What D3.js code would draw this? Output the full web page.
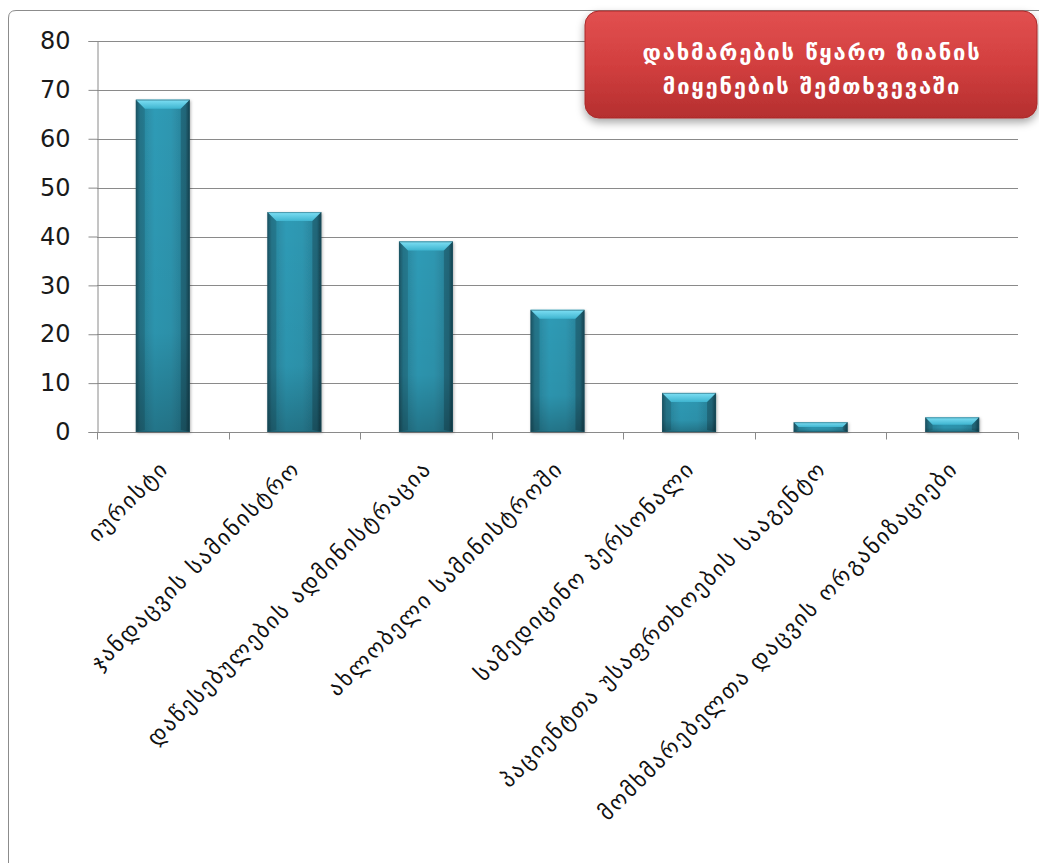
<!DOCTYPE html>
<html><head><meta charset="utf-8">
<script src="https://cdn.jsdelivr.net/npm/d3@7"></script>
<style>body{margin:0;background:#fff}svg{display:block}</style>
</head><body>
<svg id="c" width="1039" height="863"></svg>
<script>
const categories = ["იურისტი","ჯანდაცვის სამინისტრო","დაწესებულების ადმინისტრაცია","ახლობელი სამინისტროში","სამედიცინო პერსონალი","პაციენტთა უსაფრთხოების სააგენტო","მომხმარებელთა დაცვის ორგანიზაციები"];
const values = [68, 45, 39, 25, 8, 2, 3];
const yTicks = [0,10,20,30,40,50,60,70,80];
const titleLines = ["დახმარების წყარო ზიანის","მიყენების შემთხვევაში"];

(function(){
const svg = d3.select("#c");
const defs = svg.append("defs");
const pLeft = 97, pRight = 1018, pTop = 41, pBottom = 432;

// frame
svg.append("path").attr("d","M8.5,863 L8.5,18 Q8.5,10.5 16,10.5 L1039,10.5")
  .attr("fill","none").attr("stroke","#8c8c8c").attr("stroke-width",1);

const x = d3.scaleBand().domain(categories).range([pLeft,pRight]).paddingInner(0.59).paddingOuter(0.295);
const xb = d3.scaleBand().domain(categories).range([pLeft,pRight]);
const y = d3.scaleLinear().domain([0,80]).range([pBottom,pTop]);

// gridlines
svg.append("g").selectAll("line").data(yTicks).join("line")
  .attr("x1",pLeft).attr("x2",pRight).attr("y1",d=>Math.round(y(d))+0.5).attr("y2",d=>Math.round(y(d))+0.5)
  .attr("stroke","#8a8a8a").attr("stroke-width",1);

// y axis
const ya = svg.append("g").attr("transform",`translate(${pLeft+0.5},0)`)
  .call(d3.axisLeft(y).tickValues(yTicks).tickSize(9).tickPadding(18));
ya.select(".domain").attr("stroke","#8a8a8a");
ya.selectAll(".tick line").attr("stroke","#8a8a8a");
ya.selectAll(".tick text").attr("font-family","DejaVu Sans, Verdana, sans-serif").attr("font-size",24).attr("fill","#1a1a1a");

// x axis
const xa = svg.append("g").attr("transform",`translate(0,${pBottom+0.5})`);
xa.append("line").attr("x1",pLeft).attr("x2",pRight).attr("stroke","#8a8a8a");
const bounds = categories.map((c)=>xb(c)).concat([pRight]);
xa.selectAll("line.t").data(bounds).join("line").attr("class","t")
  .attr("x1",d=>Math.round(d)+0.5).attr("x2",d=>Math.round(d)+0.5).attr("y1",0).attr("y2",7).attr("stroke","#8a8a8a");

// gradients
const g1 = defs.append("linearGradient").attr("id","barG").attr("x1",0).attr("x2",1).attr("y1",0).attr("y2",0);
[[0,"#1f5e70"],[0.08,"#2a849b"],[0.35,"#2f9bb6"],[0.65,"#2e97b1"],[0.92,"#2a7f96"],[1,"#184e5e"]].forEach(s=>g1.append("stop").attr("offset",s[0]).attr("stop-color",s[1]));
const g2 = defs.append("linearGradient").attr("id","barV").attr("x1",0).attr("x2",0).attr("y1",0).attr("y2",1);
[[0,"#000",0],[0.7,"#000",0.05],[1,"#000",0.25]].forEach(s=>g2.append("stop").attr("offset",s[0]).attr("stop-color",s[1]).attr("stop-opacity",s[2]));
const g3 = defs.append("linearGradient").attr("id","bevel").attr("x1",0).attr("x2",0).attr("y1",0).attr("y2",1);
[[0,"#7fe0f5"],[1,"#3fb5d0"]].forEach(s=>g3.append("stop").attr("offset",s[0]).attr("stop-color",s[1]));
const sh = defs.append("filter").attr("id","bsh").attr("x","-20%").attr("y","-20%").attr("width","140%").attr("height","140%");
sh.append("feDropShadow").attr("dx",1).attr("dy",1).attr("stdDeviation",1.5).attr("flood-color","#000").attr("flood-opacity",0.3);

const bars = svg.append("g").selectAll("g").data(categories).join("g");
bars.each(function(c,i){
  const g = d3.select(this);
  const x0 = x(c), w = x.bandwidth(), y0 = y(values[i]), h = y(0)-y0;
  g.append("rect").attr("x",x0).attr("y",y0).attr("width",w).attr("height",h).attr("fill","url(#barG)").attr("filter","url(#bsh)");
  g.append("rect").attr("x",x0).attr("y",y0).attr("width",w).attr("height",h).attr("fill","url(#barV)");
  const b = Math.min(9, h/2);
  g.append("path").attr("d",`M${x0},${y0} L${x0+w},${y0} L${x0+w-b},${y0+b} L${x0+b},${y0+b} Z`).attr("fill","url(#bevel)");
  g.append("path").attr("d",`M${x0},${y0} L${x0+b},${y0+b} L${x0+b},${y0+h-2} L${x0},${y0+h} Z`).attr("fill","#000").attr("opacity",0.12);
  g.append("path").attr("d",`M${x0+w},${y0} L${x0+w-b},${y0+b} L${x0+w-b},${y0+h-2} L${x0+w},${y0+h} Z`).attr("fill","#000").attr("opacity",0.2);
  g.append("rect").attr("x",x0+0.5).attr("y",y0+0.5).attr("width",w-1).attr("height",h-1).attr("fill","none").attr("stroke","#1c5566").attr("stroke-opacity",0.5);
});

// category labels
svg.append("g").selectAll("text").data(categories).join("text")
  .attr("transform",c=>`translate(${x(c)+x.bandwidth()/2+7},${pBottom+38}) rotate(-45)`)
  .attr("text-anchor","end").attr("font-family","DejaVu Sans, sans-serif").attr("font-size",22)
  .attr("letter-spacing",2).attr("fill","#111")
  .text(c=>c);

// title box
const tg = defs.append("linearGradient").attr("id","titleG").attr("x1",0).attr("x2",0).attr("y1",0).attr("y2",1);
[[0,"#e25050"],[0.5,"#d23f3f"],[1,"#b52f2f"]].forEach(s=>tg.append("stop").attr("offset",s[0]).attr("stop-color",s[1]));
const tf = defs.append("filter").attr("id","tsh").attr("x","-10%").attr("y","-20%").attr("width","120%").attr("height","150%");
tf.append("feDropShadow").attr("dx",0).attr("dy",4).attr("stdDeviation",4).attr("flood-color","#000").attr("flood-opacity",0.35);
svg.append("rect").attr("x",585).attr("y",11).attr("width",452).attr("height",107).attr("rx",14)
  .attr("fill","url(#titleG)").attr("stroke","#a82a2a").attr("filter","url(#tsh)");
svg.append("text").attr("x",812).attr("y",60).attr("text-anchor","middle")
  .attr("font-family","DejaVu Sans, sans-serif").attr("font-weight","bold").attr("font-size",22)
  .attr("letter-spacing",1.8).attr("fill","#fff")
  .selectAll("tspan").data(titleLines).join("tspan").attr("x",812).attr("dy",(d,i)=>i?34:0).text(d=>d);
})();
</script>
</body></html>
